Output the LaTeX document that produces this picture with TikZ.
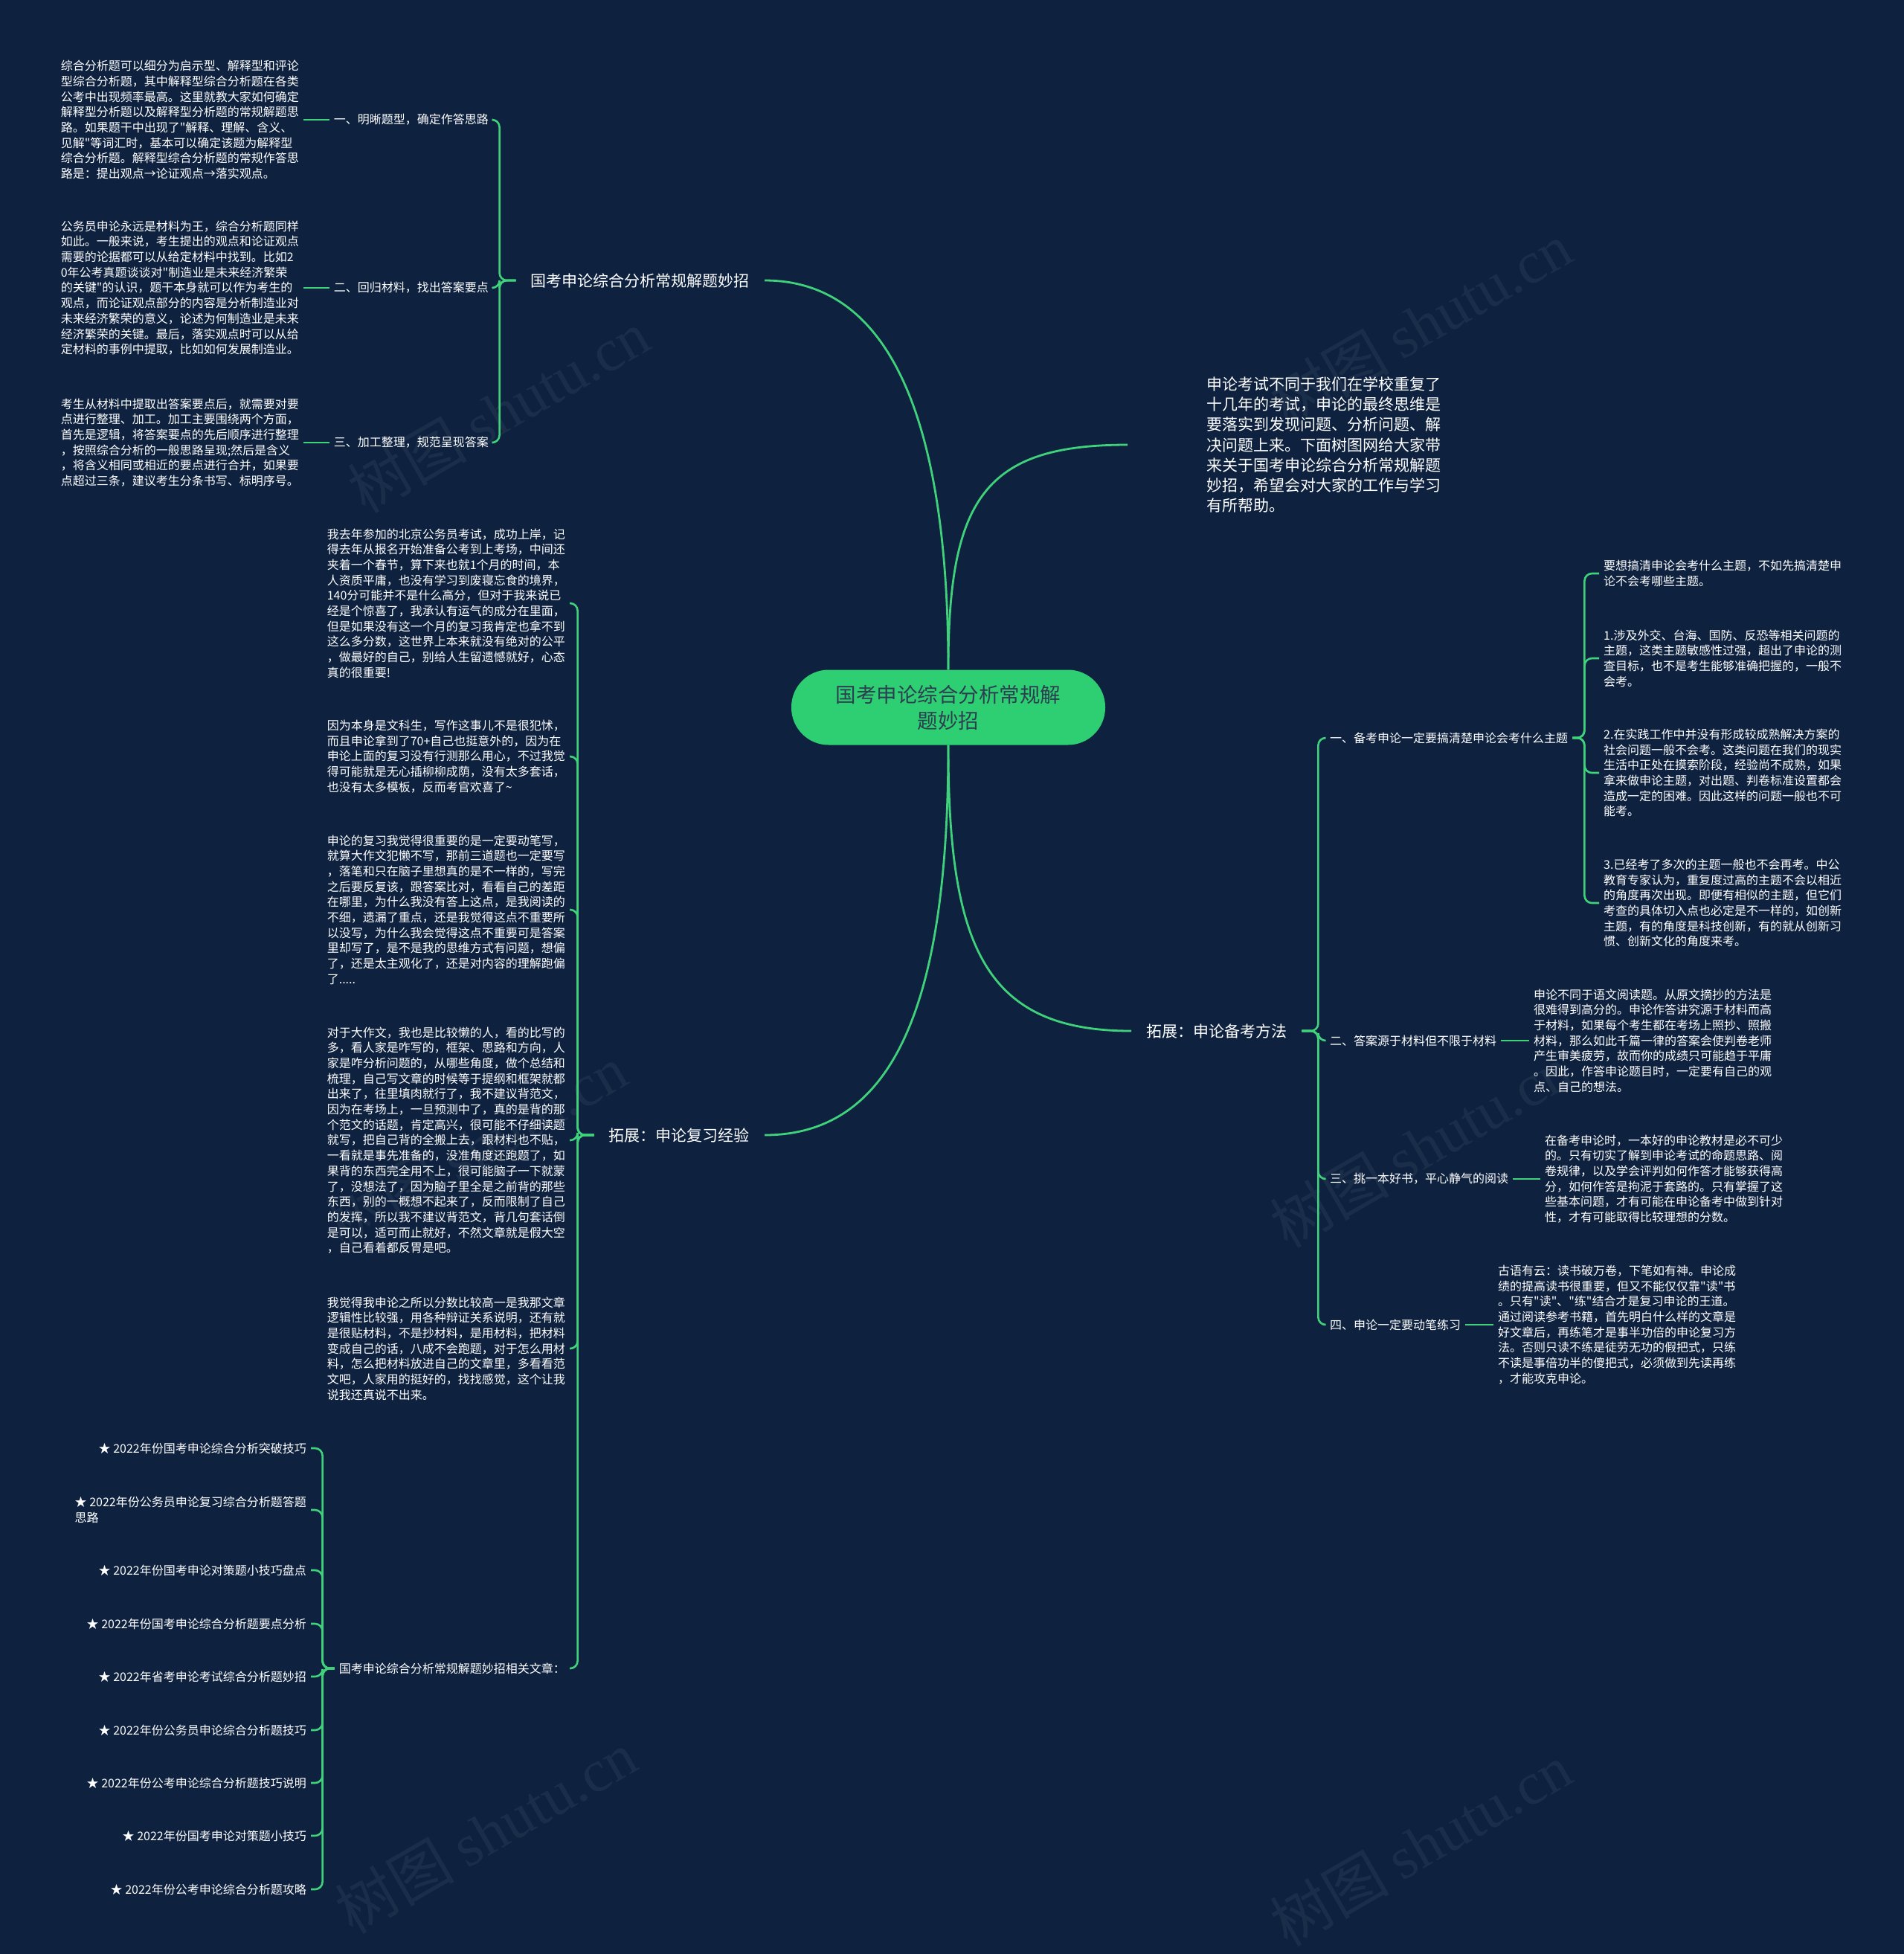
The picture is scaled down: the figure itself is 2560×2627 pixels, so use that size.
\documentclass[tikz,border=0pt]{standalone}
\usepackage{fontspec}
\setmainfont{Noto Sans CJK SC}[Ligatures=TeXOff]
\newfontfamily\wmserif{Liberation Serif}
\definecolor{bg}{RGB}{14,34,64}
\definecolor{ln}{RGB}{64,209,123}
\definecolor{cfill}{RGB}{46,207,114}
\definecolor{ctext}{RGB}{45,62,80}
\begin{document}
\begin{tikzpicture}[x=1pt,y=-1pt,
  conn/.style={draw=ln, line width=2.6pt, rounded corners=10pt},
  bcurve/.style={draw=ln, line width=2.8pt},
  hub/.style={fill=cfill, rounded corners=50pt, minimum width=422pt, minimum height=101pt, text=ctext, font=\fontsize{27.5}{35}\selectfont, align=center},
  lone/.style={text=white, font=\fontsize{21}{27.5}\selectfont, inner xsep=20pt, inner ysep=6pt},
  ltwo/.style={text=white, font=\fontsize{16}{20.7}\selectfont, inner xsep=6pt, inner ysep=4pt, align=left},
  leaf/.style={text=white, font=\fontsize{16}{20.7}\selectfont, inner xsep=6pt, inner ysep=4pt, align=left},
  intro/.style={text=white, font=\fontsize{21}{27.3}\selectfont, inner xsep=16pt, align=left},
  wm/.style={text=white, opacity=0.05, rotate=30, font=\fontsize{80}{80}\selectfont}
]
\useasboundingbox (0,0) rectangle (2560,2627);
\fill[bg] (0,0) rectangle (2560,2627);

% watermarks
\node[wm] (w1) at (670,553) {树图 {\wmserif shutu.cn}};
\node[wm] (w2) at (1910,435) {树图 {\wmserif shutu.cn}};
\node[wm] (w3) at (640,1541) {树图 {\wmserif shutu.cn}};
\node[wm] (w4) at (1910,1541) {树图 {\wmserif shutu.cn}};
\node[wm] (w5) at (653,2463) {树图 {\wmserif shutu.cn}};
\node[wm] (w6) at (1910,2480) {树图 {\wmserif shutu.cn}};

% center
\node[hub] (hub) at (1275,951) {国考申论综合分析常规解\\题妙招};

% level 1
\node[lone, anchor=east] (a) at (1028,377) {国考申论综合分析常规解题妙招};
\node[intro, anchor=west] (b) at (1606,598) {申论考试不同于我们在学校重复了\\十几年的考试，申论的最终思维是\\要落实到发现问题、分析问题、解\\决问题上来。下面树图网给大家带\\来关于国考申论综合分析常规解题\\妙招，希望会对大家的工作与学习\\有所帮助。};
\node[lone, anchor=west] (cc) at (1521,1386) {拓展：申论备考方法};
\node[lone, anchor=east] (d) at (1028,1526) {拓展：申论复习经验};

% branch a
\node[ltwo, anchor=east] (a1) at (663,161) {一、明晰题型，确定作答思路};
\node[ltwo, anchor=east] (a2) at (663,387) {二、回归材料，找出答案要点};
\node[ltwo, anchor=east] (a3) at (663,595) {三、加工整理，规范呈现答案};
\node[leaf, anchor=east] (a1x) at (408,161) {综合分析题可以细分为启示型、解释型和评论\\型综合分析题，其中解释型综合分析题在各类\\公考中出现频率最高。这里就教大家如何确定\\解释型分析题以及解释型分析题的常规解题思\\路。如果题干中出现了"解释、理解、含义、\\见解"等词汇时，基本可以确定该题为解释型\\综合分析题。解释型综合分析题的常规作答思\\路是：提出观点→论证观点→落实观点。};
\node[leaf, anchor=east] (a2x) at (408,387) {公务员申论永远是材料为王，综合分析题同样\\如此。一般来说，考生提出的观点和论证观点\\需要的论据都可以从给定材料中找到。比如2\\0年公考真题谈谈对"制造业是未来经济繁荣\\的关键"的认识，题干本身就可以作为考生的\\观点，而论证观点部分的内容是分析制造业对\\未来经济繁荣的意义，论述为何制造业是未来\\经济繁荣的关键。最后，落实观点时可以从给\\定材料的事例中提取，比如如何发展制造业。};
\node[leaf, anchor=east] (a3x) at (408,595) {考生从材料中提取出答案要点后，就需要对要\\点进行整理、加工。加工主要围绕两个方面，\\首先是逻辑，将答案要点的先后顺序进行整理\\，按照综合分析的一般思路呈现;然后是含义\\，将含义相同或相近的要点进行合并，如果要\\点超过三条，建议考生分条书写、标明序号。};

% branch d
\node[leaf, anchor=east] (d1) at (766,811) {我去年参加的北京公务员考试，成功上岸，记\\得去年从报名开始准备公考到上考场，中间还\\夹着一个春节，算下来也就1个月的时间，本\\人资质平庸，也没有学习到废寝忘食的境界，\\140分可能并不是什么高分，但对于我来说已\\经是个惊喜了，我承认有运气的成分在里面，\\但是如果没有这一个月的复习我肯定也拿不到\\这么多分数，这世界上本来就没有绝对的公平\\，做最好的自己，别给人生留遗憾就好，心态\\真的很重要!};
\node[leaf, anchor=east] (d2) at (766,1017) {因为本身是文科生，写作这事儿不是很犯怵，\\而且申论拿到了70+自己也挺意外的，因为在\\申论上面的复习没有行测那么用心，不过我觉\\得可能就是无心插柳柳成荫，没有太多套话，\\也没有太多模板，反而考官欢喜了\textasciitilde};
\node[leaf, anchor=east] (d3) at (766,1223) {申论的复习我觉得很重要的是一定要动笔写，\\就算大作文犯懒不写，那前三道题也一定要写\\，落笔和只在脑子里想真的是不一样的，写完\\之后要反复该，跟答案比对，看看自己的差距\\在哪里，为什么我没有答上这点，是我阅读的\\不细，遗漏了重点，还是我觉得这点不重要所\\以没写，为什么我会觉得这点不重要可是答案\\里却写了，是不是我的思维方式有问题，想偏\\了，还是太主观化了，还是对内容的理解跑偏\\了.....};
\node[leaf, anchor=east] (d4) at (766,1533) {对于大作文，我也是比较懒的人，看的比写的\\多，看人家是咋写的，框架、思路和方向，人\\家是咋分析问题的，从哪些角度，做个总结和\\梳理，自己写文章的时候等于提纲和框架就都\\出来了，往里填肉就行了，我不建议背范文，\\因为在考场上，一旦预测中了，真的是背的那\\个范文的话题，肯定高兴，很可能不仔细读题\\就写，把自己背的全搬上去，跟材料也不贴，\\一看就是事先准备的，没准角度还跑题了，如\\果背的东西完全用不上，很可能脑子一下就蒙\\了，没想法了，因为脑子里全是之前背的那些\\东西，别的一概想不起来了，反而限制了自己\\的发挥，所以我不建议背范文，背几句套话倒\\是可以，适可而止就好，不然文章就是假大空\\，自己看着都反胃是吧。};
\node[leaf, anchor=east] (d5) at (766,1813) {我觉得我申论之所以分数比较高一是我那文章\\逻辑性比较强，用各种辩证关系说明，还有就\\是很贴材料，不是抄材料，是用材料，把材料\\变成自己的话，八成不会跑题，对于怎么用材\\料，怎么把材料放进自己的文章里，多看看范\\文吧，人家用的挺好的，找找感觉，这个让我\\说我还真说不出来。};
\node[ltwo, anchor=east] (d6) at (766,2243) {国考申论综合分析常规解题妙招相关文章：};

% related list
\node[leaf, anchor=east] (s1) at (418,1947) {★ 2022年份国考申论综合分析突破技巧};
\node[leaf, anchor=east] (s2) at (418,2030) {★ 2022年份公务员申论复习综合分析题答题\\思路};
\node[leaf, anchor=east] (s3) at (418,2111) {★ 2022年份国考申论对策题小技巧盘点};
\node[leaf, anchor=east] (s4) at (418,2183) {★ 2022年份国考申论综合分析题要点分析};
\node[leaf, anchor=east] (s5) at (418,2254) {★ 2022年省考申论考试综合分析题妙招};
\node[leaf, anchor=east] (s6) at (418,2326) {★ 2022年份公务员申论综合分析题技巧};
\node[leaf, anchor=east] (s7) at (418,2397) {★ 2022年份公考申论综合分析题技巧说明};
\node[leaf, anchor=east] (s8) at (418,2468) {★ 2022年份国考申论对策题小技巧};
\node[leaf, anchor=east] (s9) at (418,2540) {★ 2022年份公考申论综合分析题攻略};

% branch c (right)
\node[ltwo, anchor=west] (r1) at (1782,992) {一、备考申论一定要搞清楚申论会考什么主题};
\node[ltwo, anchor=west] (r2) at (1782,1399) {二、答案源于材料但不限于材料};
\node[ltwo, anchor=west] (r3) at (1782,1585) {三、挑一本好书，平心静气的阅读};
\node[ltwo, anchor=west] (r4) at (1782,1781) {四、申论一定要动笔练习};
\node[leaf, anchor=west] (r1a) at (2150,771) {要想搞清申论会考什么主题，不如先搞清楚申\\论不会考哪些主题。};
\node[leaf, anchor=west] (r1b) at (2150,885) {1.涉及外交、台海、国防、反恐等相关问题的\\主题，这类主题敏感性过强，超出了申论的测\\查目标，也不是考生能够准确把握的，一般不\\会考。};
\node[leaf, anchor=west] (r1c) at (2150,1039) {2.在实践工作中并没有形成较成熟解决方案的\\社会问题一般不会考。这类问题在我们的现实\\生活中正处在摸索阶段，经验尚不成熟，如果\\拿来做申论主题，对出题、判卷标准设置都会\\造成一定的困难。因此这样的问题一般也不可\\能考。};
\node[leaf, anchor=west] (r1d) at (2150,1214) {3.已经考了多次的主题一般也不会再考。中公\\教育专家认为，重复度过高的主题不会以相近\\的角度再次出现。即便有相似的主题，但它们\\考查的具体切入点也必定是不一样的，如创新\\主题，有的角度是科技创新，有的就从创新习\\惯、创新文化的角度来考。};
\node[leaf, anchor=west] (r2x) at (2056,1399) {申论不同于语文阅读题。从原文摘抄的方法是\\很难得到高分的。申论作答讲究源于材料而高\\于材料，如果每个考生都在考场上照抄、照搬\\材料，那么如此千篇一律的答案会使判卷老师\\产生审美疲劳，故而你的成绩只可能趋于平庸\\。因此，作答申论题目时，一定要有自己的观\\点、自己的想法。};
\node[leaf, anchor=west] (r3x) at (2071,1585) {在备考申论时，一本好的申论教材是必不可少\\的。只有切实了解到申论考试的命题思路、阅\\卷规律，以及学会评判如何作答才能够获得高\\分，如何作答是拘泥于套路的。只有掌握了这\\些基本问题，才有可能在申论备考中做到针对\\性，才有可能取得比较理想的分数。};
\node[leaf, anchor=west] (r4x) at (2008,1781) {古语有云：读书破万卷，下笔如有神。申论成\\绩的提高读书很重要，但又不能仅仅靠"读"书\\。只有"读"、"练"结合才是复习申论的王道。\\通过阅读参考书籍，首先明白什么样的文章是\\好文章后，再练笔才是事半功倍的申论复习方\\法。否则只读不练是徒劳无功的假把式，只练\\不读是事倍功半的傻把式，必须做到先读再练\\，才能攻克申论。};

% curves from center
\draw[bcurve] (hub.north) .. controls (1275,586) and (1206,377) .. (a.east);
\draw[bcurve] (hub.north) .. controls (1275,670) and (1324,598) .. ([xshift=-90pt]b.west);
\draw[bcurve] (hub.south) .. controls (1275,1273) and (1324,1386) .. (cc.west);
\draw[bcurve] (hub.south) .. controls (1275,1340) and (1206,1526) .. (d.east);

% brackets
\foreach \c in {a1,a2,a3} \draw[conn] (a.west) -- ++(-22,0) |- (\c.east);
\draw[conn] (a1.west) -- (a1x.east);
\draw[conn] (a2.west) -- (a2x.east);
\draw[conn] (a3.west) -- (a3x.east);
\foreach \c in {d1,d2,d3,d4,d5,d6} \draw[conn] (d.west) -- ++(-22,0) |- (\c.east);
\foreach \c in {s1,s2,s3,s4,s5,s6,s7,s8,s9} \draw[conn] (d6.west) -- ++(-16,0) |- (\c.east);
\foreach \c in {r1,r2,r3,r4} \draw[conn] (cc.east) -- ++(22,0) |- (\c.west);
\foreach \c in {r1a,r1b,r1c,r1d} \draw[conn] (r1.east) -- ++(16,0) |- (\c.west);
\draw[conn] (r2.east) -- (r2x.west);
\draw[conn] (r3.east) -- (r3x.west);
\draw[conn] (r4.east) -- (r4x.west);
\end{tikzpicture}
\end{document}
